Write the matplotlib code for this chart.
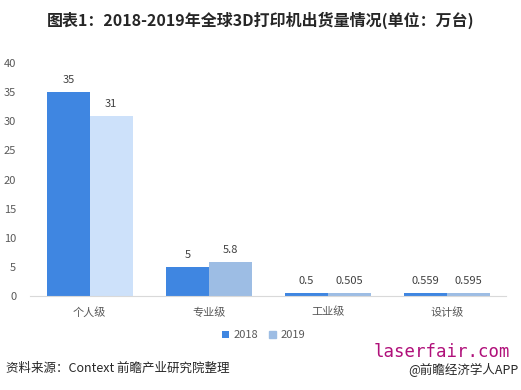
import matplotlib.pyplot as plt
import numpy as np

plt.rcParams['font.family'] = ['Noto Sans CJK SC', 'DejaVu Sans']

categories = ["个人级", "专业级", "工业级", "设计级"]
years = ["2018", "2019"]
v2018 = [35, 5, 0.5, 0.559]
v2019 = [31, 5.8, 0.505, 0.595]
labels2018 = ["35", "5", "0.5", "0.559"]
labels2019 = ["31", "5.8", "0.505", "0.595"]

c2018 = "#3f86e1"
c2019 = "#9dbde4"
c2019_first = "#cde1fa"

fig = plt.figure(figsize=(5.21, 3.9), dpi=100)
ax = fig.add_axes([0.058, 0.241, 0.914, 0.597])

x = np.arange(len(categories))
w = 0.36
b1 = ax.bar(x - w / 2, v2018, w, color=c2018, label=years[0])
b2 = ax.bar(x + w / 2, v2019, w, color=[c2019_first] + [c2019] * 3, label=years[1])

for rect, lab in zip(b1, labels2018):
    ax.text(rect.get_x() + rect.get_width() / 2, rect.get_height() + 1.2, lab,
            ha="center", va="bottom", fontsize=8, color="#404040")
for rect, lab in zip(b2, labels2019):
    ax.text(rect.get_x() + rect.get_width() / 2, rect.get_height() + 1.2, lab,
            ha="center", va="bottom", fontsize=8, color="#404040")

ax.set_xlim(-0.5, 3.5)
ax.set_ylim(0, 40)
ax.set_yticks(range(0, 41, 5))
ax.set_xticks(x)
ax.set_xticklabels(categories)
ax.tick_params(axis="both", length=0, labelsize=8, labelcolor="#595959")
ax.tick_params(axis="y", pad=10)
ax.tick_params(axis="x", pad=8)
for s in ["top", "right", "left"]:
    ax.spines[s].set_visible(False)
ax.spines["bottom"].set_color("#d9d9d9")

leg = ax.legend(loc="upper center", bbox_to_anchor=(0.49, -0.105), ncol=2, frameon=False,
                fontsize=8, handlelength=0.6, handleheight=0.6, columnspacing=1.0,
                handletextpad=0.4)
for t in leg.get_texts():
    t.set_color("#595959")
# legend patch for 2019 uses the standard light blue
leg.legend_handles[1].set_color(c2019)

fig.text(0.5, 0.948, "图表1：2018-2019年全球3D打印机出货量情况(单位：万台)",
         ha="center", va="center", fontsize=11.5, fontweight="bold", color="#262626")
fig.text(0.012, 0.055, "资料来源：Context 前瞻产业研究院整理", ha="left", va="center",
         fontsize=9, color="#262626")
fig.text(0.995, 0.05, "@前瞻经济学人APP", ha="right", va="center",
         fontsize=9, color="#262626")
fig.text(0.718, 0.097, "laserfair.com", ha="left", va="center", fontsize=12.5,
         color="#b0107a", family="DejaVu Sans Mono")

fig.savefig("out.png", dpi=100)
